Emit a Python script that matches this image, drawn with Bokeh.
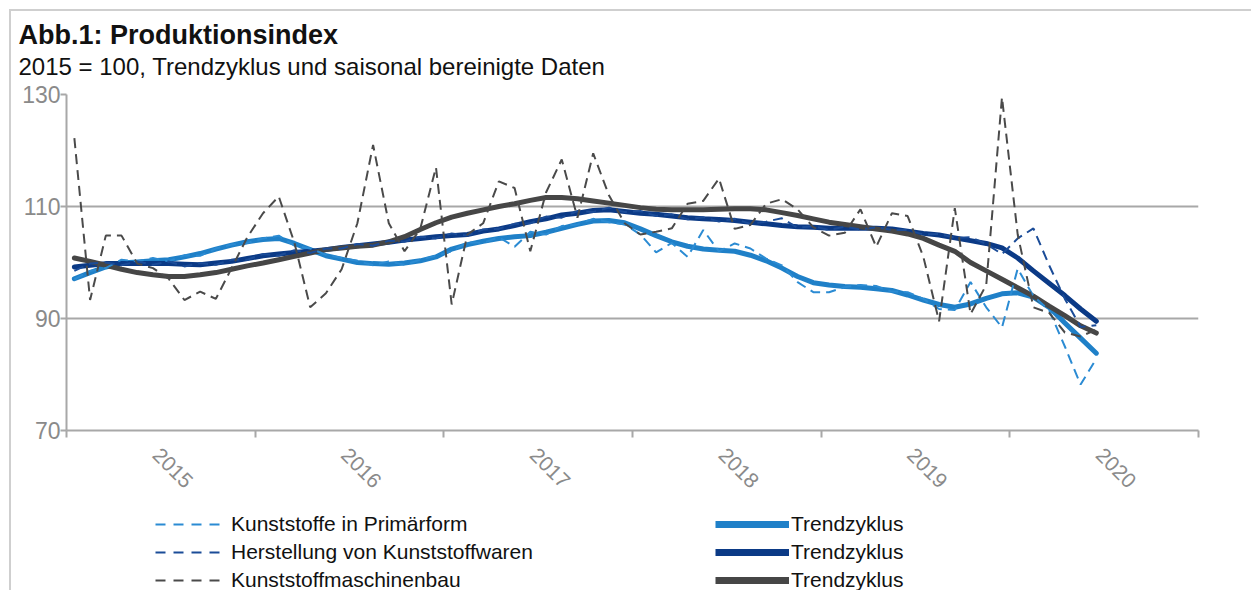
import math
from bokeh.plotting import figure
from bokeh.layouts import column
from bokeh.models import (FixedTicker, Legend, LegendItem, Title, Range1d)
from bokeh.embed import file_html
from bokeh.resources import INLINE

# ---------------- data ----------------
years = ["2015", "2016", "2017", "2018", "2019", "2020"]
months = list(range(66))  # Jan 2015 ... Jun 2020
y_ticks = [70, 90, 110, 130]

primaer_sa = [97.0, 98.5, 99.0, 100.5, 100.2, 100.8, 100.2, 101.3, 101.2, 102.5, 103.2, 103.5,
              104.3, 104.8, 103.0, 102.5, 101.4, 100.8, 100.3, 99.5, 100.2, 99.6, 100.5, 101.2,
              102.0, 103.6, 103.5, 104.5, 102.8, 105.5, 105.0, 106.5, 106.8, 107.8, 107.2, 106.8,
              105.0, 101.8, 103.5, 101.0, 105.8, 102.0, 103.4, 102.5, 100.7, 99.5, 96.5, 94.7,
              94.7, 95.6, 96.0, 95.8, 94.8, 94.7, 93.5, 91.7, 91.5, 96.5, 92.0, 88.4, 98.9, 94.0,
              91.5, 85.0, 78.2, 82.8]
primaer_trend = [97.1, 98.2, 99.2, 99.9, 100.1, 100.3, 100.5, 101.0, 101.6, 102.4, 103.1, 103.7,
                 104.1, 104.3, 103.4, 102.3, 101.2, 100.6, 100.0, 99.8, 99.7, 99.9, 100.3, 101.0,
                 102.4, 103.2, 103.8, 104.3, 104.6, 104.8, 105.4, 106.1, 106.8, 107.4, 107.5, 107.1,
                 106.0, 104.8, 103.7, 102.9, 102.4, 102.2, 102.0, 101.3, 100.3, 99.0, 97.5, 96.4,
                 96.0, 95.7, 95.6, 95.3, 95.0, 94.2, 93.3, 92.5, 92.0, 92.6, 93.6, 94.4, 94.6, 93.8,
                 92.0, 89.2, 86.5, 83.8]
waren_sa = [98.5, 99.8, 100.0, 99.5, 100.2, 99.6, 100.2, 99.3, 99.9, 99.6, 100.5, 100.5,
            101.5, 101.2, 102.2, 101.7, 102.5, 102.5, 103.3, 103.0, 103.9, 103.7, 104.6, 104.3,
            105.2, 104.8, 105.9, 106.0, 106.9, 107.0, 108.2, 108.0, 109.2, 109.0, 109.8, 109.0,
            109.2, 108.3, 108.6, 107.7, 108.1, 107.3, 107.8, 106.9, 107.3, 107.9, 106.2, 106.5,
            105.8, 106.4, 105.9, 106.3, 105.8, 105.8, 105.0, 105.1, 104.4, 104.5, 103.3, 101.5,
            104.3, 106.1, 99.5, 93.5, 88.5, 88.8]
waren_trend = [99.2, 99.5, 99.8, 99.8, 99.8, 99.8, 99.8, 99.7, 99.6, 99.9, 100.2, 100.7,
               101.2, 101.5, 101.8, 102.0, 102.3, 102.7, 103.0, 103.3, 103.6, 104.0, 104.3, 104.6,
               104.8, 105.0, 105.6, 106.0, 106.6, 107.3, 107.8, 108.5, 108.8, 109.3, 109.4, 109.1,
               108.8, 108.6, 108.3, 108.0, 107.8, 107.7, 107.5, 107.2, 106.9, 106.6, 106.4, 106.3,
               106.1, 106.1, 106.1, 106.1, 106.0, 105.6, 105.2, 104.9, 104.4, 103.9, 103.4, 102.6,
               100.8, 98.5, 96.3, 94.1, 91.7, 89.5]
maschinen_sa = [122.2, 93.3, 104.8, 104.8, 99.8, 99.0, 97.1, 93.3, 94.8, 93.5, 99.0, 104.5,
                108.8, 111.8, 103.5, 92.0, 94.5, 98.8, 107.0, 121.0, 107.0, 102.0, 106.0, 117.0,
                92.5, 105.0, 107.0, 114.5, 113.3, 102.0, 112.5, 118.4, 108.0, 119.5, 112.0, 107.0,
                105.0, 105.5, 106.1, 110.5, 111.0, 115.0, 106.0, 106.7, 110.5, 111.3, 109.5, 106.3,
                104.8, 105.3, 109.5, 102.8, 108.8, 108.3, 101.0, 89.5, 109.7, 90.8, 96.0, 129.5,
                105.0, 92.0, 91.0, 87.5, 86.8, 88.0]
maschinen_trend = [100.8, 100.2, 99.5, 98.8, 98.2, 97.8, 97.5, 97.5, 97.8, 98.2, 98.8, 99.4,
                   99.9, 100.5, 101.1, 101.7, 102.3, 102.6, 102.9, 103.1, 103.7, 104.6, 105.9, 107.1,
                   108.1, 108.8, 109.4, 110.0, 110.5, 111.1, 111.6, 111.6, 111.4, 111.0, 110.6, 110.2,
                   109.8, 109.5, 109.4, 109.4, 109.4, 109.5, 109.6, 109.6, 109.4, 108.9, 108.4, 107.8,
                   107.2, 106.8, 106.4, 106.0, 105.6, 105.1, 104.3, 103.1, 102.0, 100.0, 98.5, 97.0,
                   95.5, 94.0, 92.2, 90.5, 88.7, 87.4]

sa_labels = ["Kunststoffe in Primärform", "Herstellung von Kunststoffwaren", "Kunststoffmaschinenbau"]
trend_label = "Trendzyklus"

# ---------------- style ----------------
FONT = "Liberation Sans"
c_light = "#1f80c8"
c_dark = "#0b3a86"
c_grey = "#464646"
c_light_d = "#2b8bd3"
c_dark_d = "#1b4c98"
c_grey_d = "#4a4a4a"
axis_grey = "#a8a8a8"

x = [m + 0.5 for m in months]

p = figure(width=1240, height=489, x_range=Range1d(0, 72), y_range=Range1d(70, 130),
           output_backend="svg", toolbar_location=None, title=None,
           min_border_left=55, min_border_right=53, min_border_top=83, min_border_bottom=70)

sub = Title(text="2015 = 100, Trendzyklus und saisonal bereinigte Daten", text_font=FONT,
            text_font_size="24px", text_font_style="normal", text_color="#111111",
            offset=-48, standoff=29)
p.add_layout(sub, "above")
ttl = Title(text="Abb.1: Produktionsindex", text_font=FONT, text_font_size="27px",
            text_font_style="bold", text_color="#111111", offset=-48, standoff=-26)
p.add_layout(ttl, "above")

p.outline_line_color = None
p.xgrid.visible = False
p.ygrid.ticker = FixedTicker(ticks=y_ticks)
p.ygrid.grid_line_color = axis_grey
p.ygrid.grid_line_width = 2

p.yaxis.ticker = FixedTicker(ticks=y_ticks, minor_ticks=[])
p.yaxis.major_label_text_font = FONT
p.yaxis.major_label_text_font_size = "23px"
p.yaxis.major_label_text_color = "#8a8a8a"
p.yaxis.axis_line_color = axis_grey
p.yaxis.axis_line_width = 2
p.yaxis.major_tick_line_color = axis_grey
p.yaxis.major_tick_line_width = 2
p.yaxis.major_tick_out = 6
p.yaxis.major_tick_in = 0
p.yaxis.major_label_standoff = 0

label_pos = [5.7 + 12 * k for k in range(len(years))]
p.xaxis.ticker = FixedTicker(ticks=label_pos,
                             minor_ticks=[12 * k for k in range(len(years) + 1)])
p.xaxis.major_label_overrides = {t: y for t, y in zip(label_pos, years)}
p.xaxis.major_tick_line_color = None
p.xaxis.minor_tick_line_color = axis_grey
p.xaxis.minor_tick_line_width = 2
p.xaxis.minor_tick_out = 7
p.xaxis.minor_tick_in = 0
p.xaxis.axis_line_color = axis_grey
p.xaxis.axis_line_width = 2
p.xaxis.major_label_orientation = -math.pi / 4
p.xaxis.major_label_text_font = FONT
p.xaxis.major_label_text_font_size = "21px"
p.xaxis.major_label_text_color = "#8a8a8a"
p.xaxis.major_label_standoff = 14

# trend lines
p.line(x, primaer_trend, line_color=c_light, line_width=5, line_join="round", line_cap="round")
p.line(x, waren_trend, line_color=c_dark, line_width=5, line_join="round", line_cap="round")
p.line(x, maschinen_trend, line_color=c_grey, line_width=5, line_join="round", line_cap="round")
# seasonally adjusted (dashed)
p.line(x, primaer_sa, line_color=c_light_d, line_width=2, line_dash="10 6")
p.line(x, waren_sa, line_color=c_dark_d, line_width=2, line_dash="10 6")
p.line(x, maschinen_sa, line_color=c_grey_d, line_width=2, line_dash="10 6")

# ---------------- legend strip ----------------
lf = figure(width=1240, height=90, x_range=Range1d(-1000, -999), y_range=Range1d(-1000, -999),
            output_backend="svg", toolbar_location=None, title=None,
            x_axis_type=None, y_axis_type=None, min_border=0)
lf.outline_line_color = None
lf.grid.visible = False

sa_series = [primaer_sa, waren_sa, maschinen_sa]
tr_series = [primaer_trend, waren_trend, maschinen_trend]
sa_cols = [c_light_d, c_dark_d, c_grey_d]
tr_cols = [c_light, c_dark, c_grey]
# proxies (the legend strip's ranges keep these lines out of view; only legend glyphs show)
sa_proxies = [lf.line(x, s, line_color=c, line_width=2, line_dash="10 8")
              for s, c in zip(sa_series, sa_cols)]
tr_proxies = [lf.line(x, s, line_color=c, line_width=7) for s, c in zip(tr_series, tr_cols)]

common = dict(orientation="vertical", glyph_height=28, label_height=28, spacing=0,
              padding=0, margin=0, border_line_color=None, background_fill_alpha=0,
              label_text_font=FONT, label_text_font_size="21px", label_text_color="#111111")
leg1 = Legend(items=[LegendItem(label=l, renderers=[r]) for l, r in zip(sa_labels, sa_proxies)],
              location=(89, -4), glyph_width=67, label_standoff=9, **common)
leg2 = Legend(items=[LegendItem(label=trend_label, renderers=[r]) for r in tr_proxies],
              location=(649, -4), glyph_width=74, label_standoff=2, **common)
lf.add_layout(leg1)
lf.add_layout(leg2)

layout = column(p, lf, spacing=0, margin=(9, 0, 0, 9),
                styles={"border-top": "2px solid #cfcfcf", "border-left": "2px solid #cfcfcf"})

open("out.html", "w").write(file_html(layout, INLINE))
